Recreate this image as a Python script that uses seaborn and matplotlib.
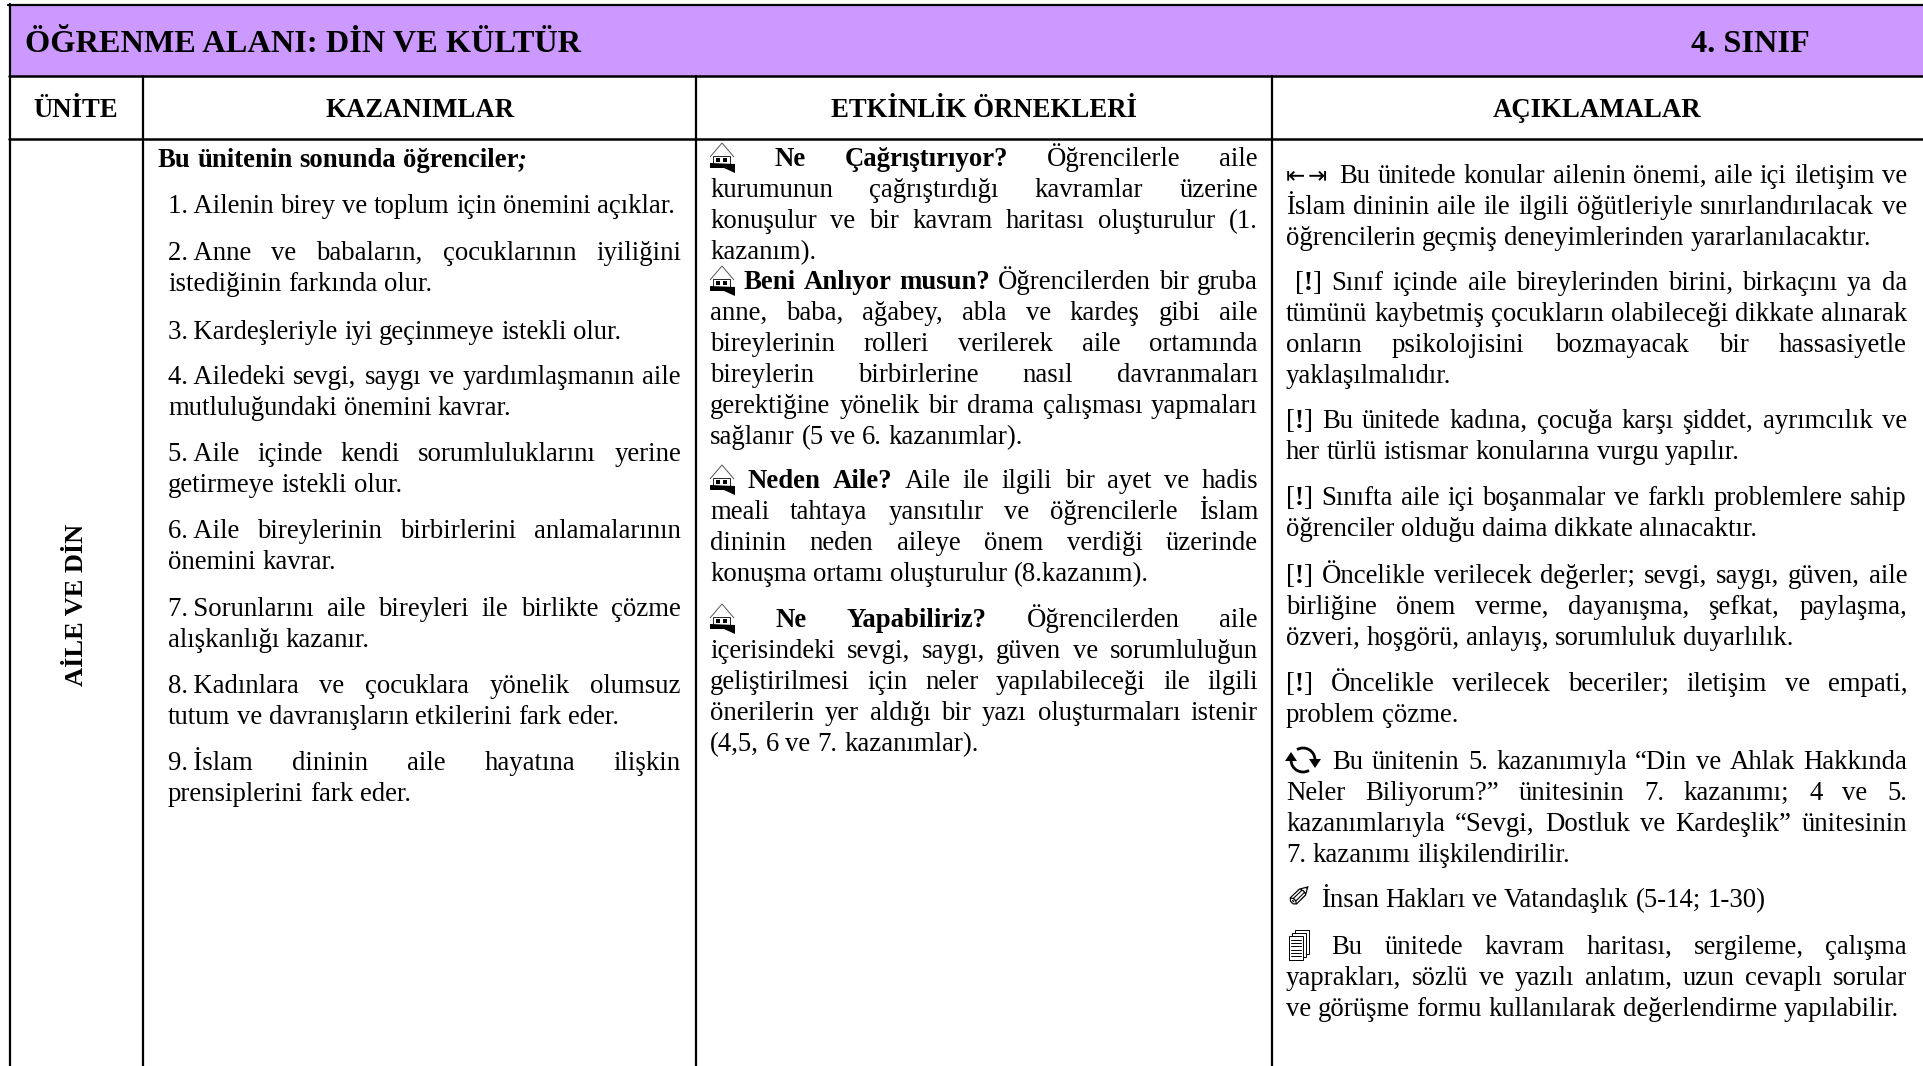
import re
import matplotlib
matplotlib.use("Agg")
import matplotlib.pyplot as plt
import seaborn as sns
from matplotlib.font_manager import FontProperties
from matplotlib.patches import Rectangle, Polygon, Arc

title_left = "ÖĞRENME ALANI: DİN VE KÜLTÜR"
title_right = "4. SINIF"
headers = ["ÜNİTE", "KAZANIMLAR", "ETKİNLİK ÖRNEKLERİ", "AÇIKLAMALAR"]
unit_name = "AİLE VE DİN"

# ** bold, __ bold italic, {x} icon
kazanimlar = [
    ["**Bu ünitenin sonunda öğrenciler**__;__"],
    ["1.\u2009Ailenin birey ve toplum için önemini açıklar."],
    ["2.\u2009Anne ve babaların, çocuklarının iyiliğini", "istediğinin farkında olur."],
    ["3.\u2009Kardeşleriyle iyi geçinmeye istekli olur."],
    ["4.\u2009Ailedeki sevgi, saygı ve yardımlaşmanın aile", "mutluluğundaki önemini kavrar."],
    ["5.\u2009Aile içinde kendi sorumluluklarını yerine", "getirmeye istekli olur."],
    ["6.\u2009Aile bireylerinin birbirlerini anlamalarının", "önemini kavrar."],
    ["7.\u2009Sorunlarını aile bireyleri ile birlikte çözme", "alışkanlığı kazanır."],
    ["8.\u2009Kadınlara ve çocuklara yönelik olumsuz", "tutum ve davranışların etkilerini fark eder."],
    ["9.\u2009İslam dininin aile hayatına ilişkin", "prensiplerini fark eder."],
]
etkinlikler = [
    ["{home} **Ne Çağrıştırıyor?** Öğrencilerle aile",
     "kurumunun çağrıştırdığı kavramlar üzerine",
     "konuşulur ve bir kavram haritası oluşturulur (1.",
     "kazanım)."],
    ["{home} **Beni Anlıyor musun?** Öğrencilerden bir gruba",
     "anne, baba, ağabey, abla ve kardeş gibi aile",
     "bireylerinin rolleri verilerek aile ortamında",
     "bireylerin birbirlerine nasıl davranmaları",
     "gerektiğine yönelik bir drama çalışması yapmaları",
     "sağlanır (5 ve 6. kazanımlar)."],
    ["{home} **Neden Aile?** Aile ile ilgili bir ayet ve hadis",
     "meali tahtaya yansıtılır ve öğrencilerle İslam",
     "dininin neden aileye önem verdiği üzerinde",
     "konuşma ortamı oluşturulur (8.kazanım)."],
    ["{home} **Ne Yapabiliriz?** Öğrencilerden aile",
     "içerisindeki sevgi, saygı, güven ve sorumluluğun",
     "geliştirilmesi için neler yapılabileceği ile ilgili",
     "önerilerin yer aldığı bir yazı oluşturmaları istenir",
     "(4,5, 6 ve 7. kazanımlar)."],
]
aciklamalar = [
    ["{limit} Bu ünitede konular ailenin önemi, aile içi iletişim ve",
     "İslam dininin aile ile ilgili öğütleriyle sınırlandırılacak ve",
     "öğrencilerin geçmiş deneyimlerinden yararlanılacaktır."],
    ["[**!**] Sınıf içinde aile bireylerinden birini, birkaçını ya da",
     "tümünü kaybetmiş çocukların olabileceği dikkate alınarak",
     "onların psikolojisini bozmayacak bir hassasiyetle",
     "yaklaşılmalıdır."],
    ["[**!**] Bu ünitede kadına, çocuğa karşı şiddet, ayrımcılık ve",
     "her türlü istismar konularına vurgu yapılır."],
    ["[**!**] Sınıfta aile içi boşanmalar ve farklı problemlere sahip",
     "öğrenciler olduğu daima dikkate alınacaktır."],
    ["[**!**] Öncelikle verilecek değerler; sevgi, saygı, güven, aile",
     "birliğine önem verme, dayanışma, şefkat, paylaşma,",
     "özveri, hoşgörü, anlayış, sorumluluk duyarlılık."],
    ["[**!**] Öncelikle verilecek beceriler; iletişim ve empati,",
     "problem çözme."],
    ["{cycle} Bu ünitenin 5. kazanımıyla “Din ve Ahlak Hakkında",
     "Neler Biliyorum?” ünitesinin 7. kazanımı; 4 ve 5.",
     "kazanımlarıyla “Sevgi, Dostluk ve Kardeşlik” ünitesinin",
     "7. kazanımı ilişkilendirilir."],
    ["{pen} İnsan Hakları ve Vatandaşlık (5-14; 1-30)"],
    ["{doc} Bu ünitede kavram haritası, sergileme, çalışma",
     "yaprakları, sözlü ve yazılı anlatım, uzun cevaplı sorular",
     "ve görüşme formu kullanılarak değerlendirme yapılabilir."],
]

# first baseline of each paragraph, in pixels
starts_kaz = [167, 213, 260, 339, 384, 461, 538, 616, 693, 770]
starts_etk = [166, 289, 488, 627]
starts_ack = [183, 290, 428, 505, 583, 691, 769, 907, 954]
indent_ack = {1: 9}

W, H = 1924, 1066
LINE_H = 31
SERIF = "Liberation Serif"
BODY_PX = 26.7

sns.set_theme(style="white")
plt.rcParams["font.family"] = [SERIF, "DejaVu Sans"]

fig = plt.figure(figsize=(W / 100, H / 100), dpi=100)
ax = fig.add_axes([0, 0, 1, 1])
ax.set_xlim(0, W)
ax.set_ylim(H, 0)
ax.axis("off")
renderer = fig.canvas.get_renderer()


def pt(px):
    return px * 72 / 100


# band and grid
ax.add_patch(Rectangle((10, 5), W - 10, 71, fc="#CC99FF", ec="none"))
ax.plot([8, W], [5, 5], color="black", lw=1.6)
ax.plot([9, W], [76, 76], color="black", lw=1.8)
ax.plot([9, W], [139, 139], color="black", lw=1.8)
for x, top in [(10, 4), (143, 76), (696, 76), (1272, 76)]:
    ax.plot([x, x], [top, H], color="black", lw=1.6)

ax.text(25, 52, title_left, fontsize=pt(32.4), fontweight="bold", va="baseline", color="black")
ax.text(1691, 52, title_right, fontsize=pt(32.4), fontweight="bold", va="baseline", color="black")
for name, cx in zip(headers, [76, 420, 984, 1597]):
    ax.text(cx, 117, name, fontsize=pt(26.7), fontweight="bold", ha="center", va="baseline", color="black")
ax.text(77, 605, unit_name, fontsize=pt(26.4), fontweight="bold", rotation=90, ha="center", va="center", color="black")


def draw_home(x, y):
    ax.add_patch(Polygon([(x, y - 9), (x + 12, y - 23), (x + 24, y - 9)], closed=False, fc="none", ec="#555555", lw=0.7))
    ax.add_patch(Rectangle((x + 3, y - 10), 17, 8, fc="white", ec="black", lw=0.6))
    ax.add_patch(Rectangle((x + 6, y - 8), 4, 4, fc="black", ec="none"))
    ax.add_patch(Rectangle((x + 13, y - 8), 4, 4, fc="black", ec="none"))
    ax.add_patch(Polygon([(x, y - 3), (x + 25, y - 2), (x + 25, y + 7), (x + 14, y + 2), (x, y + 2)], fc="black", ec="none"))


def draw_limit(x, y):
    ax.text(x, y - 1, "⇤", family="DejaVu Sans", fontsize=pt(23), va="baseline", color="black")
    ax.text(x + 22, y - 1, "⇥", family="DejaVu Sans", fontsize=pt(23), va="baseline", color="black")


def draw_cycle(x, y):
    cx, cy = x + 17, y - 9
    ax.add_patch(Arc((cx, cy), 24, 24, theta1=-120, theta2=0, color="black", lw=2))
    ax.add_patch(Polygon([(cx + 6, cy - 1), (cx + 18, cy - 1), (cx + 12, cy + 8)], fc="black", ec="none"))
    ax.add_patch(Arc((cx, cy), 24, 24, theta1=60, theta2=180, color="black", lw=2))
    ax.add_patch(Polygon([(cx - 18, cy + 1), (cx - 6, cy + 1), (cx - 12, cy - 8)], fc="black", ec="none"))


def draw_pen(x, y):
    ax.text(x, y, "✐", family="DejaVu Sans", fontsize=pt(30), va="baseline", color="black")


def draw_doc(x, y):
    for off in [6, 3, 0]:
        ax.add_patch(Rectangle((x + 3 + off, y - 18 - off), 14, 24, fc="white", ec="black", lw=0.7))
    for k in range(6):
        ax.plot([x + 5, x + 15], [y - 14 + k * 3.2] * 2, color="black", lw=0.7)


ICONS = {"home": (draw_home, 25), "limit": (draw_limit, 46), "cycle": (draw_cycle, 38),
         "pen": (draw_pen, 28), "doc": (draw_doc, 24)}


def font_for(state):
    return FontProperties(family=SERIF, size=pt(BODY_PX),
                          weight="bold" if state else "normal",
                          style="italic" if state == "bi" else "normal")


def run_width(text, state):
    w, _, _ = renderer.get_text_width_height_descent(text, font_for(state), False)
    return w


def parse(line):
    # gives a list of words, each a list of (text, state) runs
    words, cur, state = [], [], None
    for part in re.split(r"(\*\*|__| )", line):
        if part == "**":
            state = None if state == "b" else "b"
        elif part == "__":
            state = None if state == "bi" else "bi"
        elif part == " ":
            words.append(cur)
            cur = []
        elif part:
            cur.append((part, state))
    words.append(cur)
    return words


def word_width(word):
    total = 0
    for text, state in word:
        m = re.fullmatch(r"\{(\w+)\}", text)
        total += ICONS[m.group(1)][1] if m else run_width(text, state)
    return total


def draw_line(line, x0, x1, y, justify):
    words = parse(line)
    widths = [word_width(w) for w in words]
    gap = BODY_PX * 0.25
    if justify and len(words) > 1:
        gap = (x1 - x0 - sum(widths)) / (len(words) - 1)
    x = x0
    for word, width in zip(words, widths):
        cx = x
        for text, state in word:
            m = re.fullmatch(r"\{(\w+)\}", text)
            if m:
                ICONS[m.group(1)][0](cx, y)
                cx += ICONS[m.group(1)][1]
            else:
                ax.text(cx, y, text, fontproperties=font_for(state), va="baseline", color="black")
                cx += run_width(text, state)
        x += width + gap


def draw_column(paragraphs, starts, x0, x1, first_x=None, indents=None):
    for i, (para, start) in enumerate(zip(paragraphs, starts)):
        for j, line in enumerate(para):
            left = first_x if (first_x is not None and i == 0) else x0
            if indents and j == 0:
                left += indents.get(i, 0)
            draw_line(line, left, x1, start + j * LINE_H, j < len(para) - 1)


draw_column(kazanimlar, starts_kaz, 168, 681, first_x=158)
draw_column(etkinlikler, starts_etk, 710, 1258)
draw_column(aciklamalar, starts_ack, 1286, 1907, indents=indent_ack)

fig.savefig("out.png", dpi=100)
